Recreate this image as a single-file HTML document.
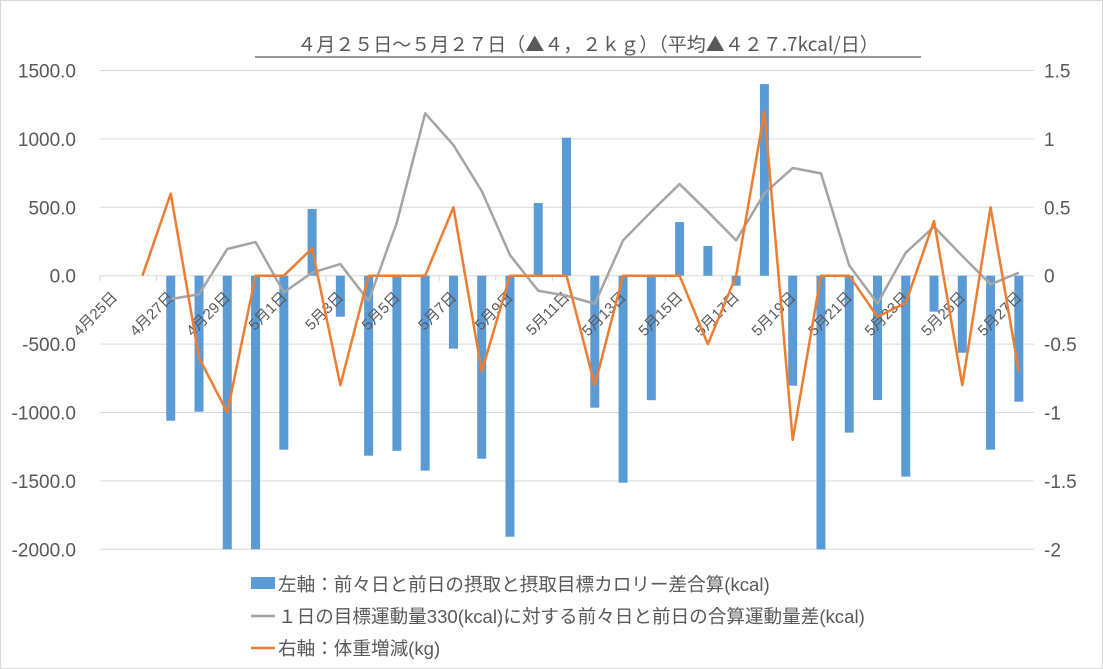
<!DOCTYPE html>
<html><head><meta charset="utf-8"><style>
html,body{margin:0;padding:0;background:#fff;}
svg{display:block;font-family:"Liberation Sans","Noto Sans CJK JP",sans-serif;}
</style></head><body>
<svg id="c" width="1103" height="669" viewBox="0 0 1103 669" xmlns="http://www.w3.org/2000/svg">
<rect x="0.5" y="0.5" width="1102" height="668" fill="#fff" stroke="#d9d9d9"/>
<text x="588" y="51" text-anchor="middle" font-size="19" fill="#595959" font-family="'Noto Sans CJK JP',sans-serif">４月２５日～５月２７日（▲４，２ｋｇ）（平均▲４２７.7kcal/日）</text>
<line x1="255" y1="57" x2="921" y2="57" stroke="#595959" stroke-width="1.3"/>
<g id="grid" stroke="#d9d9d9" stroke-width="1"></g>
<g id="ylab" font-size="19" fill="#595959"></g>
<g id="bars" fill="#5b9bd5"></g>
<g id="xlab" font-size="15" fill="#595959"></g>
<polyline id="gray" fill="none" stroke="#a5a5a5" stroke-width="2.5" stroke-linejoin="round"/>
<polyline id="orange" fill="none" stroke="#ed7d31" stroke-width="2.5" stroke-linejoin="round"/>
<g font-size="18.6" fill="#595959">
<rect x="251" y="577" width="24" height="12" fill="#5b9bd5"/>
<text x="278" y="591">左軸：前々日と前日の摂取と摂取目標カロリー差合算(kcal)</text>
<line x1="251" y1="616" x2="275" y2="616" stroke="#a5a5a5" stroke-width="2.5"/>
<text x="278" y="623">１日の目標運動量330(kcal)に対する前々日と前日の合算運動量差(kcal)</text>
<line x1="251" y1="648" x2="275" y2="648" stroke="#ed7d31" stroke-width="2.5"/>
<text x="278" y="655">右軸：体重増減(kg)</text>
</g>
</svg>
<script>
const NS="http://www.w3.org/2000/svg";
function el(t,a,p,txt){const e=document.createElementNS(NS,t);for(const k in a)e.setAttribute(k,a[k]);if(txt!==undefined)e.textContent=txt;document.getElementById(p).appendChild(e);return e;}
const Y=v=>275.7-v*0.1368, X=i=>114.2+28.27*i;
const L=100,R=1034;
for(let k=0;k<8;k++){const v=1500-500*k;const y=Y(v);
 el('line',{x1:L,x2:R,y1:y,y2:y},'grid');
 el('text',{x:76,y:y+7,'text-anchor':'end'},'ylab',v.toFixed(1));
 const r=(1.5-0.5*k);el('text',{x:1044,y:y+7},'ylab',(Math.abs(r)<1e-9?'0':String(r)));}
for(let i=0;i<=33;i+=2){const x=L+28.27*i;el('line',{x1:x,x2:x,y1:275.7,y2:281},'grid');}
const bars=[null,null,-1060,-994,-2000,-2000,-1272,488,-300,-1316,-1280,-1425,-533,-1338,-1908,531,1009,-965,-1513,-910,392,217,-73,1401,-804,-2000,-1147,-909,-1469,-263,-563,-1272,-921];
bars.forEach((v,i)=>{if(v==null)return;const y0=Y(0),y1=Y(v);el('rect',{x:X(i)-4.5,y:Math.min(y0,y1),width:9,height:Math.abs(y1-y0)},'bars');});
const gray=[null,null,-170,-136,195,246,-122,22,85,-185,390,1187,955,619,151,-110,-146,-205,258,468,670,468,258,602,787,748,75,-202,168,358,144,-63,22];
const org=[null,0,0.6,-0.6,-1.0,0,0,0.2,-0.8,0,0,0,0.5,-0.7,0,0,0,-0.8,0,0,0,-0.5,0,1.2,-1.2,0,0,-0.3,-0.2,0.4,-0.8,0.5,-0.7];
document.getElementById('gray').setAttribute('points',gray.map((v,i)=>v==null?'':X(i)+','+Y(v)).join(' ').trim());
document.getElementById('orange').setAttribute('points',org.map((v,i)=>v==null?'':X(i)+','+Y(v*1000)).join(' ').trim());
for(let i=0;i<=32;i+=2){const d=25+i;const s=d<=30?'4月'+d+'日':'5月'+(d-30)+'日';
 const x=X(i)+4,y=298;el('text',{x:x,y:y,'text-anchor':'end',transform:'rotate(-45 '+x+' '+y+')'},'xlab',s);}
</script>
</body></html>
